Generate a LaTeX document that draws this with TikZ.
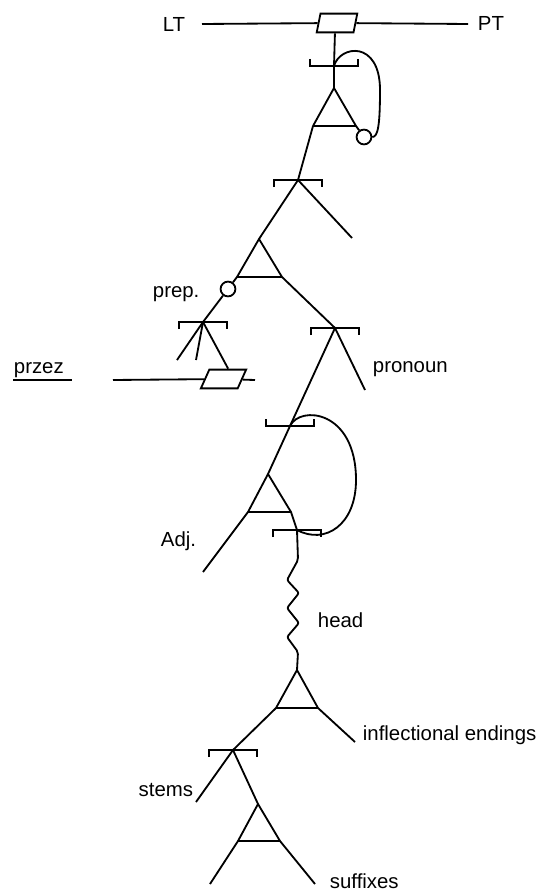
\documentclass[tikz,border=0pt]{standalone}
\usepackage{fontspec}
\setmainfont{Liberation Sans}

\begin{document}
\begin{tikzpicture}[
  x=0.025cm,y=-0.025cm,
  font=\fontsize{14.5}{17}\selectfont,
  line width=1.3pt,
  slab/.style={draw,fill=white,xslant=0.2,minimum width=0.92cm,
               minimum height=0.47cm,inner sep=0},
  ring/.style={draw,circle,minimum size=0.37cm,inner sep=0},
  lbl/.style={inner sep=0},
  brkdown/.pic={\draw (-24,7)--(-24,0)--(24,0)--(24,7);},
  brkup/.pic={\draw (-24,-7)--(-24,0)--(24,0)--(24,-7);}
]
\useasboundingbox (0,0) rectangle (549,893);

% LT -- PT line
\node[lbl](lt) at (174,24){LT};
\node[lbl](pt) at (491,23){PT};
\coordinate (lte) at (202,24);
\coordinate (pte) at (468,24);
\node[slab](top) at (337,23){};
\draw (lte)--(top)--(pte);

% upper triangle with loop
\coordinate (root) at (334,66);
\coordinate (t1a) at (334,88);
\coordinate (t1l) at (313,126);
\coordinate (t1r) at (356,126);
\node[ring](c1) at (364,137){};
\draw (top.south)--(root)--(t1a);
\draw (t1l)--(t1a)--(t1r)--(c1);
\draw (t1l)--(t1r);
\draw (root) .. controls (340,45) and (380,40) .. (380,90)
             .. controls (380,125) and (378,137) .. (c1.east);
\pic at (root){brkup};

% second level
\coordinate (np) at (298,180);
\coordinate (npr) at (352,238);
\draw (t1l)--(np)--(npr);
\pic at (np){brkdown};
\coordinate (t2a) at (259,239);
\coordinate (t2l) at (237,277);
\coordinate (t2r) at (282,277);
\node[ring](c2) at (228,289){};
\draw (np)--(t2a)--(t2l)--(c2);
\draw (t2a)--(t2r);
\draw (t2l)--(t2r);

% prep. with przez
\node[lbl,anchor=base west](preplbl) at (152,297){prep.};
\coordinate (pp) at (203,322);
\coordinate (pp1) at (177,360);
\coordinate (pp2) at (196,360);
\node[slab,xslant=0.25](low) at (223.5,379){};
\draw (c2)--(pp);
\draw (pp)--(pp1);
\draw (pp)--(pp2);
\draw (pp)--(low.north);
\pic at (pp){brkdown};
\coordinate (lwa) at (113,380);
\coordinate (lwb) at (255,380);
\draw (lwa)--(low)--(lwb);
\node[lbl,anchor=base west](przez) at (13,373){przez};
\draw (przez.base west) ++(0,7) -- ++(59,0);

% pronoun
\coordinate (pn) at (335,328);
\coordinate (pnr) at (365,390);
\draw (t2r)--(pn)--(pnr);
\pic at (pn){brkdown};
\node[lbl,anchor=base west](pronoun) at (372,372){pronoun};

% Adj. triangle with loop
\coordinate (ap) at (290,426);
\coordinate (t3a) at (268,474);
\coordinate (t3l) at (248,512);
\coordinate (t3r) at (291,512);
\coordinate (t3e) at (203,572);
\coordinate (hd) at (297,530);
\draw (pn)--(ap)--(t3a)--(t3l)--(t3e);
\draw (t3a)--(t3r)--(hd);
\draw (t3l)--(t3r);
\draw (ap) .. controls (300,405) and (356,410) .. (356,480)
           .. controls (356,525) and (325,545) .. (hd);
\pic at (ap){brkup};
\pic at (hd){brkdown};
\node[lbl,anchor=base east](adj) at (197,546){Adj.};

% head
\coordinate (z0) at (298,560);
\coordinate (t4a) at (297,670);
\draw[rounded corners=1.5pt] (hd)--(z0)--++(-11,20)--++(12,13)--++(-12,15)
  --++(12,15)--++(-12,14)--++(11,15)--(t4a);
\node[lbl,anchor=base west](head) at (317,627){head};

% word triangle
\coordinate (t4l) at (276,708);
\coordinate (t4r) at (318,708);
\coordinate (t4e) at (355,742);
\coordinate (st) at (233,750);
\draw (t4a)--(t4r)--(t4e);
\draw (t4a)--(t4l)--(st);
\draw (t4l)--(t4r);
\node[lbl,anchor=base west](infl) at (362,740){inflectional endings};

% stems
\coordinate (ste) at (196,802);
\draw (st)--(ste);
\pic at (st){brkdown};
\node[lbl,anchor=base east](stems) at (194,796){stems};

% suffixes
\coordinate (t5a) at (258,804);
\coordinate (t5l) at (238,841);
\coordinate (t5r) at (280,841);
\coordinate (t5le) at (210,884);
\coordinate (t5re) at (315,884);
\draw (st)--(t5a)--(t5l)--(t5le);
\draw (t5a)--(t5r)--(t5re);
\draw (t5l)--(t5r);
\node[lbl,anchor=base west](suff) at (329,888){suffixes};
\end{tikzpicture}
\end{document}
